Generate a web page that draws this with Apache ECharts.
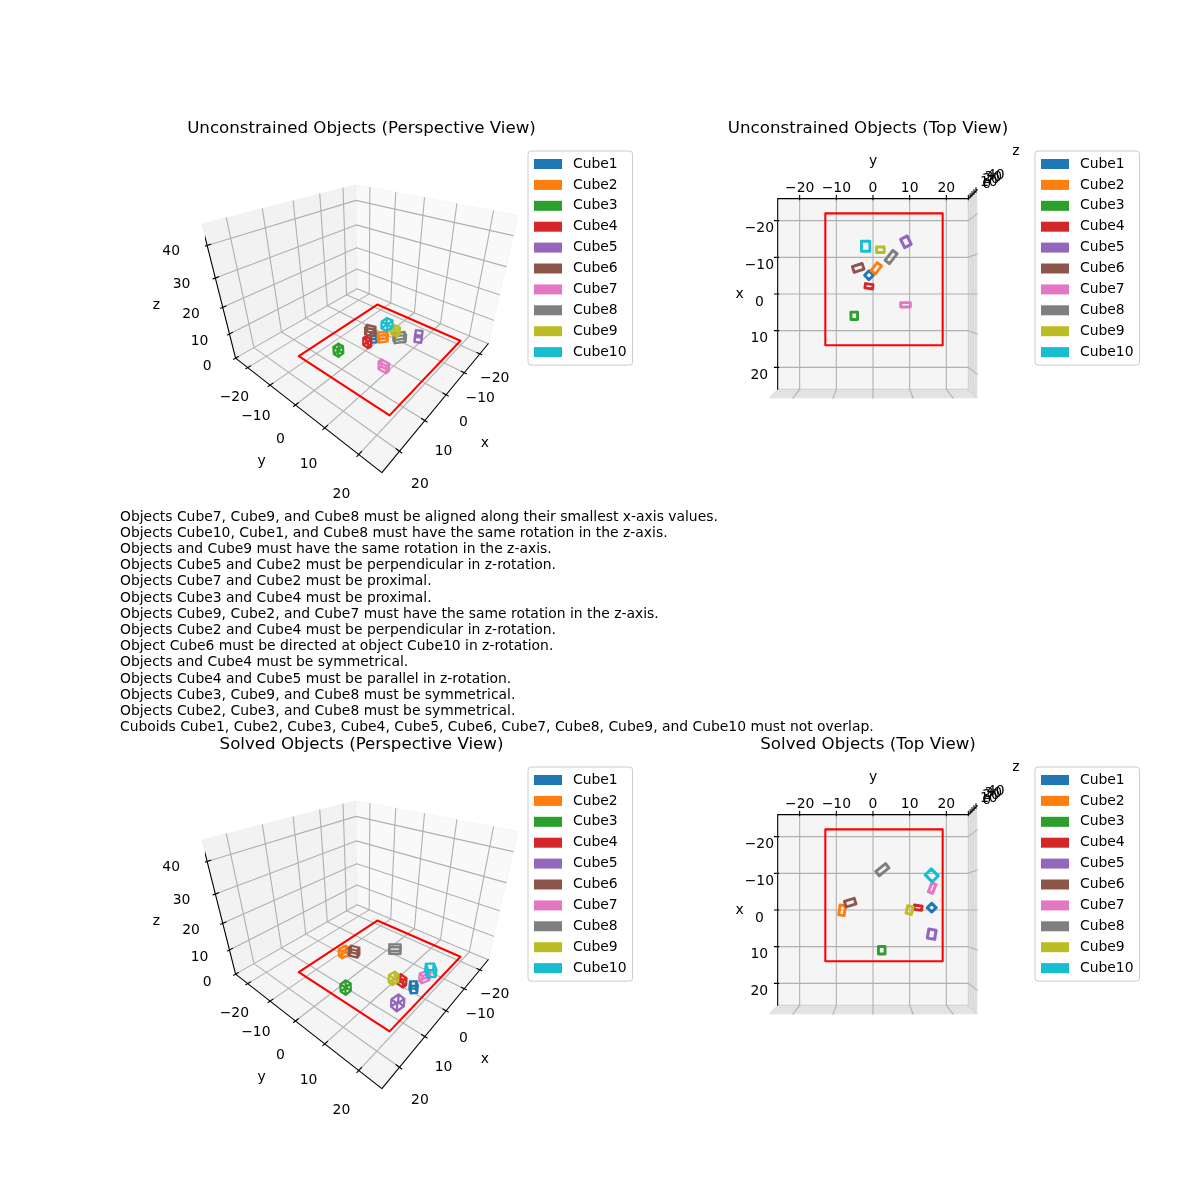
<!DOCTYPE html>
<html>
<head>
<meta charset="utf-8">
<style>html,body{margin:0;padding:0;background:#fff}#c{width:1200px;height:1200px}</style>
<script src="https://cdn.jsdelivr.net/npm/echarts@6/dist/echarts.min.js"></script>
</head>
<body>
<div id="c"></div>
<script>
const cubeNames = ['Cube1','Cube2','Cube3','Cube4','Cube5','Cube6','Cube7','Cube8','Cube9','Cube10'];
const cubeColors = ['#1f77b4','#ff7f0e','#2ca02c','#d62728','#9467bd','#8c564b','#e377c2','#7f7f7f','#bcbd22','#17becf'];
// half sizes of each cuboid (data units)
const cubeHalfA = [0.85,1.35,1.0,0.6,1.25,0.8,0.6,1.7,0.75,1.35];
const cubeHalfB = [0.85,0.75,0.9,1.05,1.0,1.4,1.3,0.75,1.05,1.15];
const cubeHeight = [3,3,3,3,3,3,3,3,3,3];
// unconstrained layout
const unconstrainedX = [-5.1,-7.0,5.94,-2.1,-14.2,-7.1,2.93,-10.05,-12.05,-13.0];
const unconstrainedY = [-1.1,0.9,-5.1,-1.1,8.95,-4.03,8.85,4.93,2.0,-2.0];
const unconstrainedRot = [45,-38,0,-8,26.6,18,0,-38,0,0];
// solved layout
const solvedX = [-0.63,0.08,10.96,-0.63,6.58,-2.0,-5.95,-10.96,0.0,-9.4];
const solvedY = [15.97,-8.4,2.38,12.24,15.97,-6.2,16.1,2.55,9.95,15.97];
const solvedRot = [45,-8,0,-8,-9.5,18,68,-51,77.5,45];
// room rectangle
const roomX = [-22,14];
const roomY = [-13,19];
// axes
const horizontalLimit = 26;
const verticalLimit = 46;
const xyTicks = [-20,-10,0,10,20];
const zTicks = [0,10,20,30,40];
const panelTitles = ['Unconstrained Objects (Perspective View)','Unconstrained Objects (Top View)','Solved Objects (Perspective View)','Solved Objects (Top View)'];
const constraintLines = [
 'Objects Cube7, Cube9, and Cube8 must be aligned along their smallest x-axis values.',
 'Objects Cube10, Cube1, and Cube8 must have the same rotation in the z-axis.',
 'Objects and Cube9 must have the same rotation in the z-axis.',
 'Objects Cube5 and Cube2 must be perpendicular in z-rotation.',
 'Objects Cube7 and Cube2 must be proximal.',
 'Objects Cube3 and Cube4 must be proximal.',
 'Objects Cube9, Cube2, and Cube7 must have the same rotation in the z-axis.',
 'Objects Cube2 and Cube4 must be perpendicular in z-rotation.',
 'Object Cube6 must be directed at object Cube10 in z-rotation.',
 'Objects and Cube4 must be symmetrical.',
 'Objects Cube4 and Cube5 must be parallel in z-rotation.',
 'Objects Cube3, Cube9, and Cube8 must be symmetrical.',
 'Objects Cube2, Cube3, and Cube8 must be symmetrical.',
 'Cuboids Cube1, Cube2, Cube3, Cube4, Cube5, Cube6, Cube7, Cube8, Cube9, and Cube10 must not overlap.'
];

const FONT = '"DejaVu Sans"';
const HALF_XY = 0.595, HALF_Z = 0.4465, LIM2D = 0.095, SIZE = 318;
const L = horizontalLimit;
const perspView = {elev:30, azim:40, focal:0.2, edgeX:L, edgeY:L, zAxisX:L, zAxisY:-L, wallX:-L, wallY:-L, tickOut:0.6, tickIn:0.9,
  xLabel:[0,31.5,-7], yLabel:[31.5,0,-8], zLabel:[32.8,-29,0], xName:[0,37.5,-10], yName:[38,2,-7], zName:[38.5,-32,25],
  xLabelShift:0, negativeXOffset:[-4,1], cubeWidth:2.3, wallGridWidth:1.1};
const topView = {elev:90, azim:0, focal:1, edgeX:-L, edgeY:-L, zAxisX:-L, zAxisY:L, wallX:L, wallY:L, tickOut:0.9, tickIn:0.3,
  xLabel:[0,-31,0], yLabel:[-28.8,0,0], zLabel:[-30,31,0], xName:[0,-36.4,0], yName:[-36.2,0,0], zName:[-37.4,37.4,22],
  xLabelShift:2.2, negativeXOffset:[0,0], cubeWidth:2.8, wallGridWidth:0.6};

function project(view,x,y,z){
  const a=view.azim*Math.PI/180,e=view.elev*Math.PI/180;
  const X=x/L*HALF_XY,Y=y/L*HALF_XY,Z=(z/verticalLimit-0.5)*2*HALF_Z;
  const u=[-Math.sin(a),Math.cos(a),0];
  const v=[-Math.sin(e)*Math.cos(a),-Math.sin(e)*Math.sin(a),Math.cos(e)];
  const w=[Math.cos(e)*Math.cos(a),Math.cos(e)*Math.sin(a),Math.sin(e)];
  const dot=(p)=>p[0]*X+p[1]*Y+p[2]*Z;
  const depth=10*view.focal-dot(w);
  return [view.focal*dot(u)/depth,view.focal*dot(v)/depth];
}
const GAP=['-','-'];
function segs(view,list){
  const out=[];
  list.forEach(s=>{ s.forEach(p=>out.push(project(view,p[0],p[1],p[2]))); out.push(GAP); });
  return out;
}
function cubeSegments(x,y,h,a,b,rot){
  const r=rot*Math.PI/180,c=Math.cos(r),s=Math.sin(r);
  const corner=(i,j)=>[x+i*a*c-j*b*s,y+i*a*s+j*b*c];
  const cs=[corner(-1,-1),corner(1,-1),corner(1,1),corner(-1,1)];
  const ring=z=>[0,1,2,3,0].map(i=>[cs[i][0],cs[i][1],z]);
  const list=[ring(0),ring(h)];
  cs.forEach(p=>list.push([[p[0],p[1],0],[p[0],p[1],h]]));
  return list;
}

const grids=[],xAxes=[],yAxes=[],series=[],legends=[],titles=[];
function addPanel(idx,view,cx,cy,cubeX,cubeY,cubeRot,legendLeft,legendTop,title,titleX,titleTop){
  grids.push({left:cx-SIZE/2,top:cy-SIZE/2,width:SIZE,height:SIZE,show:false,containLabel:false});
  xAxes.push({type:'value',gridIndex:idx,min:-LIM2D,max:LIM2D,show:false});
  yAxes.push({type:'value',gridIndex:idx,min:-LIM2D,max:LIM2D,show:false});
  const base={xAxisIndex:idx,yAxisIndex:idx,silent:true,animation:false};
  const line=(name,data,color,width,z)=>series.push(Object.assign({},base,{type:'line',name,data,symbol:'none',showSymbol:false,clip:false,connectNulls:false,z,
    lineStyle:{color,width,cap:'round',join:'round'},itemStyle:{color}}));
  const label=(name,items,z)=>series.push(Object.assign({},base,{type:'scatter',name,symbolSize:1,clip:false,z,
    itemStyle:{color:'rgba(0,0,0,0)',opacity:1},
    data:items.map(it=>({value:project(view,it[0],it[1],it[2]),text:it[3],label:{offset:it[4]||[0,0]}})),
    label:{show:true,position:'inside',formatter:p=>p.data.text,color:'#000',opacity:1,fontFamily:FONT,fontSize:13.9,align:'center',verticalAlign:'middle'},
    labelLayout:{hideOverlap:false}}));
  const H=verticalLimit;
  const panes=[
    {pts:[[-L,-L,0],[L,-L,0],[L,L,0],[-L,L,0]],color:'#f5f5f5'},
    {pts:[[view.wallX,-L,0],[view.wallX,L,0],[view.wallX,L,H],[view.wallX,-L,H]],color:'#f9f9f9'},
    {pts:[[-L,view.wallY,0],[L,view.wallY,0],[L,view.wallY,H],[-L,view.wallY,H]],color:'#f2f2f2'}
  ];
  series.push(Object.assign({},base,{type:'custom',name:'panes'+idx,clip:false,z:1,coordinateSystem:'cartesian2d',
    data:panes.map((p,i)=>[i]),
    renderItem:(params,api)=>{
      const p=panes[params.dataIndex];
      return {type:'polygon',shape:{points:p.pts.map(q=>api.coord(project(view,q[0],q[1],q[2])))},
        style:{fill:p.color,stroke:'#ececec',lineWidth:0.5}};
    }}));
  const gridSegs=[],wallSegs=[];
  xyTicks.forEach(t=>{
    gridSegs.push([[t,-L,0],[t,L,0]]);
    gridSegs.push([[-L,t,0],[L,t,0]]);
    gridSegs.push([[t,view.wallY,0],[t,view.wallY,H]]);
    gridSegs.push([[view.wallX,t,0],[view.wallX,t,H]]);
  });
  zTicks.forEach(t=>{
    wallSegs.push([[view.wallX,-L,t],[view.wallX,L,t]]);
    wallSegs.push([[-L,view.wallY,t],[L,view.wallY,t]]);
  });
  line('wallgrid'+idx,segs(view,wallSegs),'#b0b0b0',view.wallGridWidth,2);
  line('grid'+idx,segs(view,gridSegs),'#b0b0b0',1.1,2);
  const axisSegs=[
    [[-L,view.edgeX,0],[L,view.edgeX,0]],
    [[view.edgeY,-L,0],[view.edgeY,L,0]],
    [[view.zAxisX,view.zAxisY,0],[view.zAxisX,view.zAxisY,H]]
  ];
  const sgnX=Math.sign(view.edgeX),sgnY=Math.sign(view.edgeY),sgnZ=Math.sign(view.zAxisX);
  const o=view.tickOut,n=view.tickIn;
  xyTicks.forEach(t=>{
    axisSegs.push([[t,view.edgeX+o*sgnX,0],[t,view.edgeX-n*sgnX,0]]);
    axisSegs.push([[view.edgeY+o*sgnY,t,0],[view.edgeY-n*sgnY,t,0]]);
  });
  zTicks.forEach(t=>{
    axisSegs.push([[view.zAxisX+o*sgnZ,view.zAxisY,t],[view.zAxisX-n*sgnZ,view.zAxisY,t]]);
  });
  line('axes'+idx,segs(view,axisSegs),'#000',1.1,3);
  line('room'+idx,segs(view,[[[roomX[0],roomY[0],0],[roomX[1],roomY[0],0],[roomX[1],roomY[1],0],[roomX[0],roomY[1],0],[roomX[0],roomY[0],0]]]),'#ff0000',2.08,4);
  cubeNames.forEach((n2,i)=>{
    line(n2,segs(view,cubeSegments(cubeX[i],cubeY[i],cubeHeight[i],cubeHalfA[i],cubeHalfB[i],cubeRot[i])),cubeColors[i],view.cubeWidth,5+i*0.01);
  });
  const fmt=t=>String(t).replace('-','\u2212');
  const items=[];
  xyTicks.forEach(t=>{
    items.push([t+view.xLabelShift,view.xLabel[1],view.xLabel[2],fmt(t),t<0?view.negativeXOffset:[0,0]]);
    items.push([view.yLabel[0],t,view.yLabel[2],fmt(t)]);
  });
  zTicks.forEach(t=>items.push([view.zLabel[0],view.zLabel[1],t,fmt(t)]));
  items.push([...view.xName,'x'],[...view.yName,'y'],[...view.zName,'z']);
  label('labels'+idx,items,6);
  legends.push({data:cubeNames,orient:'vertical',left:legendLeft,top:legendTop,padding:[6,6,6,6],icon:'rect',itemWidth:28,itemHeight:10,itemGap:6.9,
    backgroundColor:'#fff',borderColor:'#cccccc',borderWidth:1,borderRadius:3,selectedMode:false,
    textStyle:{fontFamily:FONT,fontSize:13.9,color:'#000',padding:[0,0,0,6]}});
  titles.push({text:title,left:titleX,top:titleTop,textAlign:'center',padding:0,textStyle:{fontFamily:FONT,fontSize:16.67,fontWeight:'normal',color:'#000'}});
}
addPanel(0,perspView,365.5,292.5,unconstrainedX,unconstrainedY,unconstrainedRot,528,151,panelTitles[0],361.5,120);
addPanel(1,topView,873,294,unconstrainedX,unconstrainedY,unconstrainedRot,1035,151,panelTitles[1],868,120);
addPanel(2,perspView,365.5,908.5,solvedX,solvedY,solvedRot,528,767,panelTitles[2],361.5,736);
addPanel(3,topView,873,910,solvedX,solvedY,solvedRot,1035,767,panelTitles[3],868,736);

const chart=echarts.init(document.getElementById('c'),null,{renderer:'canvas',width:1200,height:1200});
chart.setOption({
  animation:false,backgroundColor:'#fff',
  title:titles,grid:grids,xAxis:xAxes,yAxis:yAxes,legend:legends,series,
  graphic:constraintLines.map((t,i)=>({type:'text',left:120,top:510+i*16.2,silent:true,
    style:{text:t,fontFamily:FONT,fontSize:13.9,fill:'#000'}}))
});
</script>
</body>
</html>
